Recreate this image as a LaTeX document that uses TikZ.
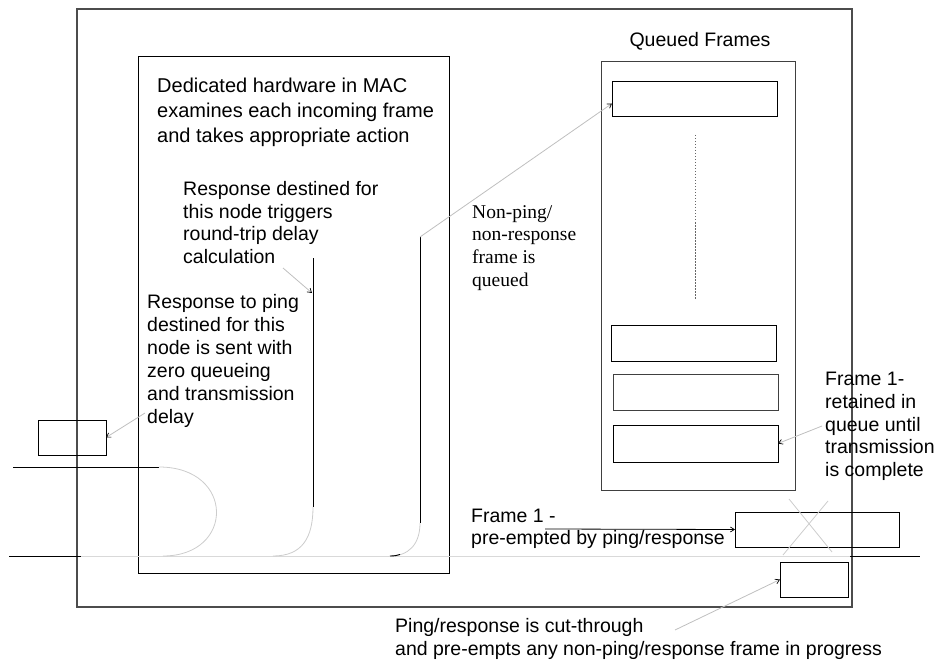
\documentclass[tikz,border=0pt]{standalone}
\usepackage{fontspec}
\setmainfont{Liberation Sans}
\newfontfamily\timesfont{Liberation Serif}
\usetikzlibrary{arrows.meta,calc}
\begin{document}
\begin{tikzpicture}[x=1pt,y=-1pt,
  box/.style={draw=black,line width=1pt,inner sep=0,outer sep=0},
  lbl/.style={font=\fontsize{19.5}{22.7}\selectfont,align=left,anchor=north west,inner sep=0},
  faint/.style={draw=black!20,line width=0.8pt},
  blk/.style={draw=black,line width=1pt},
  arr/.style={draw=black!25,line width=0.8pt,-{Straight Barb[length=4pt,width=5pt,black,line width=0.7pt]}},
]
\useasboundingbox (0,0) rectangle (937,663);

% boxes
\node[box,draw=black!70,line width=1.3pt,minimum width=775,minimum height=598] (outer) at (464.5,308) {};
\node[box,minimum width=311,minimum height=516] (inner) at (293.5,315) {};
\node[box,draw=black!75,minimum width=194,minimum height=428] (queue) at (698,276) {};
\node[box,minimum width=165,minimum height=35] (f1) at (694.5,99.5) {};
\node[box,minimum width=165,minimum height=36] (f2) at (693.5,343) {};
\node[box,draw=black!75,minimum width=165,minimum height=36] (f3) at (695.5,392) {};
\node[box,minimum width=165,minimum height=37] (f4) at (695.5,443.5) {};
\node[box,minimum width=164,minimum height=35] (rbox) at (817,529.5) {};
\node[box,minimum width=68,minimum height=35] (lbox) at (72,437.5) {};
\node[box,minimum width=68,minimum height=35] (sbox) at (814,579.5) {};

% texts
\node[lbl,anchor=center] (qtitle) at (700,41) {Queued Frames};
\node[lbl,font=\fontsize{20}{25}\selectfont] (t1) at (157,78) {Dedicated hardware in MAC\\examines each incoming frame\\and takes appropriate action};
\node[lbl] (t2) at (183,181) {Response destined for\\this node triggers\\round-trip delay\\calculation};
\node[lbl,font=\fontsize{19.5}{23}\selectfont] (t3) at (147,294) {Response to ping\\destined for this\\node is sent with\\zero queueing\\and transmission\\delay};
\node[lbl,font=\timesfont\fontsize{19.5}{22.7}\selectfont] (t4) at (472,205) {Non-ping/\\non-response\\frame is\\queued};
\node[lbl] (t5) at (825,372) {Frame 1-\\retained in\\queue until\\transmission\\is complete};
\node[lbl,font=\fontsize{19.5}{22}\selectfont] (t6) at (471,509) {Frame 1 -\\pre-empted by ping/response};
\node[lbl] (t7) at (395,618) {Ping/response is cut-through\\and pre-empts any non-ping/response frame in progress};

% line coordinates
\coordinate (v1t) at (313,258);
\coordinate (v1b) at (313,507);
\coordinate (v2t) at (420,237);
\coordinate (v2b) at (420,523);
\coordinate (topL) at (13,467);
\coordinate (topR) at (159,467);
\coordinate (busA) at (9,556);
\coordinate (busB) at (81,556);
\coordinate (busC) at (850,556);
\coordinate (busD) at (920,556);
\coordinate (c1e) at (163,556);
\coordinate (c2e) at (273,556);
\coordinate (c3e) at (390,556);
\coordinate (dotT) at (695,135);
\coordinate (dotB) at (695,300);
\coordinate (xa1) at (789,499);
\coordinate (xa2) at (832,552);
\coordinate (xb1) at (828,501);
\coordinate (xb2) at (783,555);
\coordinate (a1s) at (283,268);
\coordinate (a1e) at (312,293);
\coordinate (a2s) at (145,413);
\coordinate (a3s) at (822,426);
\coordinate (a4s) at (675,630);
\coordinate (a5s) at (545,529);

% bus lines
\draw[blk] (topL) -- (topR);
\draw[blk] (busA) -- (busB);
\draw[faint,draw=black!15] (busB) -- (busC);
\draw[blk] (busC) -- (busD);
\draw[blk] (v1t) -- (v1b);
\draw[blk] (v2t) -- (v2b);

% curves
\draw[faint] (topR) .. controls (235,467) and (235,556) .. (c1e);
\draw[faint] (v1b) .. controls (313,538) and (302,556) .. (c2e);
\draw[faint] (v2b) .. controls (420,545) and (408,556) .. (c3e);
\draw[black,line width=0.9pt] (c3e) .. controls (394,556) and (397,555.5) .. (400,554.5);

% dotted line in queue
\draw[draw=black!60,line width=0.7pt,dash pattern=on 1.5pt off 1.5pt] (dotT) -- (dotB);

% cross
\draw[faint] (xa1) -- (xa2);
\draw[faint] (xb1) -- (xb2);

% arrows
\draw[arr] (a1s) -- (a1e);
\draw[arr] (a2s) -- (lbox.east);
\draw[arr] (v2t) -- ($(f1.west)+(0,4)$);
\draw[arr] (a3s) -- (f4.east);
\draw[arr] (a4s) -- (sbox.west);
\draw[arr,draw=black] (a5s) -- (rbox.west);
\end{tikzpicture}
\end{document}
